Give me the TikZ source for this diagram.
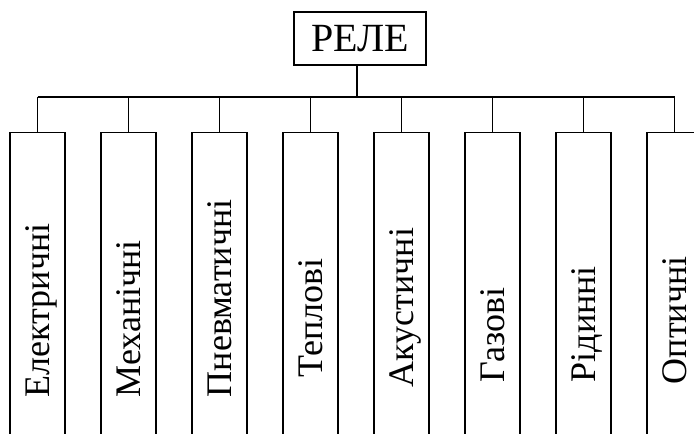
\documentclass[tikz,border=0pt]{standalone}
\usepackage{fontspec}
\setmainfont{Liberation Serif}
\tikzset{
  box/.style={draw, minimum width=55pt, minimum height=400pt, anchor=north, inner sep=0pt},
  lbl/.style={rotate=90, anchor=base west, inner sep=0pt, font=\fontsize{36}{40}\selectfont},
}
\begin{document}
\begin{tikzpicture}[x=1pt, y=-1pt, line width=1.6pt]
  \clip (0,0) rectangle (694,434);
  \node[draw, minimum width=132pt, minimum height=53pt, inner sep=0pt,
    font=\fontsize{40}{44}\selectfont] (rele) at (360,38.5) {РЕЛЕ};
  \coordinate (bus) at (0,97);
  % the eight kinds
  \foreach \txt/\ys [count=\i from 0] in {Електричні/398, Механічні/398,
      Пневматичні/398, Теплові/378, Акустичні/388, Газові/383,
      Рідинні/383, Оптичні/385}{
    \node[box] (b\i) at (37.5+91*\i,131.5) {};
    \node[lbl] (t\i) at (49+91*\i,\ys) {\txt};
    \draw (b\i.north) -- (b\i.north |- bus);
  }
  \draw (b0.north |- bus) -- (b7.north |- bus);
  \draw ([xshift=-3pt]rele.south) -- ([xshift=-3pt]rele.south |- bus);
\end{tikzpicture}
\end{document}
